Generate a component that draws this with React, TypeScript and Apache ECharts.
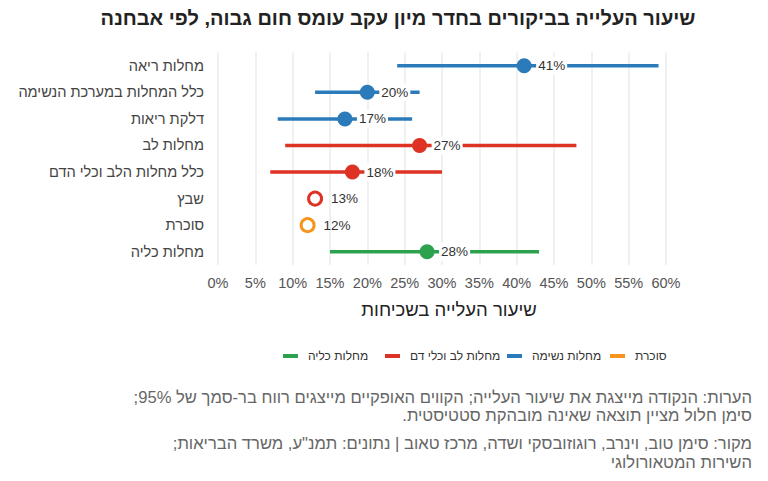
import React, { useEffect, useRef } from "react";
import * as echarts from "echarts";

// Diagnoses, top to bottom
const categories = [
  "מחלות ריאה",
  "כלל המחלות במערכת הנשימה",
  "דלקת ריאות",
  "מחלות לב",
  "כלל מחלות הלב וכלי הדם",
  "שבץ",
  "סוכרת",
  "מחלות כליה",
];

// Increase in visit rate (%) with 95% confidence interval
const rates = [41, 20, 17, 27, 18, 13, 12, 28];
const ciLower: (number | null)[] = [24, 13, 8, 9, 7, null, null, 15];
const ciUpper: (number | null)[] = [59, 27, 26, 48, 30, null, null, 43];
const significant = [true, true, true, true, true, false, false, true];

// Diagnosis groups (legend order, left to right)
const groupNames = ["מחלות כליה", "מחלות לב וכלי דם", "מחלות נשימה", "סוכרת"];
const groupColors = ["#2ca24f", "#dd3224", "#2b7bba", "#f7941d"];
const rowGroup = [2, 2, 2, 1, 1, 1, 3, 0];

const xTicks = { min: 0, max: 60, interval: 5 };

const titleText = "שיעור העלייה בביקורים בחדר מיון עקב עומס חום גבוה, לפי אבחנה";
const xAxisTitle = "שיעור העלייה בשכיחות";
const RLM = "\u200F";
const noteLines = [
  "הערות: הנקודה מייצגת את שיעור העלייה; הקווים האופקיים מייצגים רווח בר-סמך של 95%;",
  "סימן חלול מציין תוצאה שאינה מובהקת סטטיסטית.",
  "מקור: סימן טוב, וינרב, רוגוזובסקי ושדה, מרכז טאוב | נתונים: תמנ\"ע, משרד הבריאות;",
  "השירות המטאורולוגי",
];
const noteY = [397, 415, 443, 462];

// Left edge of each legend entry's swatch
const legendLeft = [278, 380, 502, 605];

const FONT = "'Liberation Sans', Arial, sans-serif";

export default function App() {
  const ref = useRef<HTMLDivElement>(null);

  useEffect(() => {
    document.body.style.margin = "0";
    if (!ref.current) return;
    const chart = echarts.init(ref.current, null, { renderer: "svg" });

    const series = groupNames.map((name, g) => {
      const color = groupColors[g];
      const data = rates
        .map((r, i) => ({ r, i }))
        .filter(({ i }) => rowGroup[i] === g)
        .map(({ r, i }) => [r, i]);
      return {
        type: "custom",
        name,
        itemStyle: { color },
        data,
        encode: { x: 0, y: 1 },
        renderItem: (params: any, api: any) => {
          const row = api.value(1);
          const val = api.value(0);
          const p = api.coord([val, row]);
          const children: any[] = [];
          const lo = ciLower[row];
          const hi = ciUpper[row];
          if (lo != null && hi != null) {
            const a = api.coord([lo, row]);
            const b = api.coord([hi, row]);
            children.push({
              type: "line",
              shape: { x1: a[0], y1: a[1], x2: b[0], y2: b[1] },
              style: { stroke: color, lineWidth: 3.5 },
            });
          }
          const sig = significant[row];
          children.push(
            sig
              ? { type: "circle", shape: { cx: p[0], cy: p[1], r: 7.5 }, style: { fill: color } }
              : {
                  type: "circle",
                  shape: { cx: p[0], cy: p[1], r: 6.5 },
                  style: { fill: "#fff", stroke: color, lineWidth: 3 },
                }
          );
          children.push({
            type: "text",
            x: p[0] + (sig ? 12 : 14),
            y: p[1],
            style: {
              text: rates[row] + "%",
              fill: "#333",
              fontSize: 13.5,
              fontFamily: FONT,
              align: "left",
              verticalAlign: "middle",
              backgroundColor: sig ? "#fff" : "transparent",
              padding: [2, 2, 2, 2],
            },
          });
          return { type: "group", children };
        },
      };
    });

    // One legend per group so each entry sits at a fixed position
    const legends = groupNames.map((n, g) => ({
      data: [{ name: n, icon: "rect" }],
      left: legendLeft[g],
      top: 345,
      itemWidth: 15,
      itemHeight: 4,
      textStyle: { fontSize: 12, color: "#333", padding: [0, 0, 0, 5] },
    }));

    chart.setOption({
      animation: false,
      backgroundColor: "#fff",
      textStyle: { fontFamily: FONT },
      grid: { left: 218, right: 102, top: 52.5, bottom: 216, containLabel: false },
      xAxis: {
        type: "value",
        min: xTicks.min,
        max: xTicks.max,
        interval: xTicks.interval,
        axisLine: { show: false },
        axisTick: { show: false },
        axisLabel: { formatter: "{value}%", fontSize: 14.5, color: "#555", margin: 10 },
        splitLine: { show: true, lineStyle: { color: "#ebebeb", width: 1.5 } },
        name: xAxisTitle,
        nameLocation: "middle",
        nameGap: 35,
        nameTextStyle: { fontSize: 18.5, color: "#222", fontFamily: FONT, padding: [0, 0, 0, 14] },
      },
      yAxis: {
        type: "category",
        data: categories,
        inverse: true,
        axisLine: { show: false },
        axisTick: { show: false },
        splitLine: { show: false },
        axisLabel: { fontSize: 14.6, color: "#444", margin: 14 },
      },
      legend: legends,
      series,
      graphic: [
        {
          type: "text",
          x: 398,
          y: 18,
          style: {
            text: titleText,
            align: "center",
            verticalAlign: "middle",
            fill: "#222",
            font: `bold 20px ${FONT}`,
          },
        },
        ...noteLines.map((t, i) => ({
          type: "text",
          x: 752,
          y: noteY[i],
          style: {
            text: t + RLM,
            align: "right",
            verticalAlign: "middle",
            fill: "#666",
            font: `16.6px ${FONT}`,
          },
        })),
      ],
    });

    return () => chart.dispose();
  }, []);

  return <div ref={ref} style={{ width: 768, height: 481 }} />;
}
